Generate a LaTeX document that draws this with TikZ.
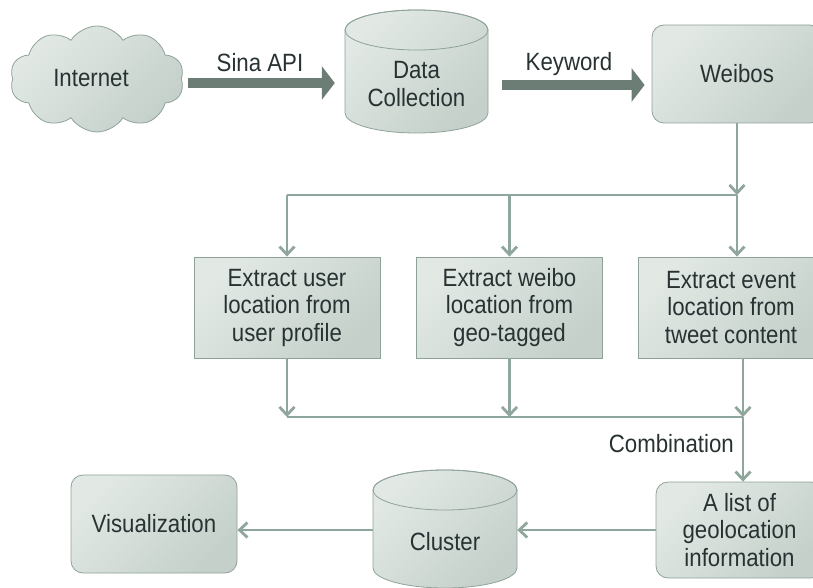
\documentclass[tikz,border=0pt]{standalone}
\usepackage{fontspec}
\setmainfont{Liberation Sans}
\newfontfamily\tallfont[FakeStretch=0.89]{Liberation Sans}
\usetikzlibrary{arrows.meta,shapes.symbols}
\definecolor{bordc}{HTML}{8FA299}
\definecolor{connc}{HTML}{8FA69C}
\definecolor{bigc}{HTML}{6B7D75}
\definecolor{lightf}{HTML}{E2E9E5}
\definecolor{darkf}{HTML}{C5D0CA}
\definecolor{txtc}{HTML}{283232}
\begin{document}
\begin{tikzpicture}[x=1pt,y=-1pt,
  font=\tallfont\fontsize{25}{27.5}\selectfont, text=txtc,
  shadedbox/.style={draw=bordc, line width=0.8pt, top color=lightf, bottom color=darkf, shading angle=45},
  procbox/.style={shadedbox, rectangle, minimum width=186pt, minimum height=101pt, align=center, inner sep=0pt},
  roundbox/.style={shadedbox, rectangle, rounded corners=12pt, align=center, inner sep=0pt},
  conn/.style={draw=connc, line width=2.8pt},
  connarrow/.style={conn, -{Straight Barb[length=8pt,width=15pt,line width=2.8pt]}},
  bigarrow/.style={draw=bigc, line width=10pt, -{Triangle[length=13pt,width=33pt]}},
  lbl/.style={inner sep=0pt}
]
\useasboundingbox (0,0) rectangle (813,588);

% Internet cloud
\node[cloud, shadedbox, cloud puffs=10, cloud puff arc=115, aspect=1.65,
      minimum width=174pt, minimum height=106pt, inner sep=0pt] (internet) at (97,79) {};
\node[lbl, anchor=base] (internettxt) at (91,87) {Internet};

% Data Collection cylinder
\node[inner sep=0pt, minimum width=143pt, minimum height=123pt] (dc) at (416.5,71.5) {};
\path[shadedbox] (345,30) -- (345,113)
   arc[start angle=180, end angle=360, x radius=71.5pt, y radius=20pt]
   -- (488,30)
   arc[start angle=0, end angle=180, x radius=71.5pt, y radius=20pt] -- cycle;
\draw[draw=bordc, line width=0.8pt] (416.5,30) ellipse[x radius=71.5pt, y radius=20pt];
\node[lbl, align=center] (dctxt) at (416.5,84) {Data\\Collection};

% Weibos
\node[roundbox, minimum width=170pt, minimum height=98pt] (weibos) at (737,74) {Weibos};

% labels of big arrows
\node[lbl, anchor=base] (sina) at (260,72) {Sina API};
\node[lbl, anchor=base] (keyword) at (569,71) {Keyword};

% big arrows
\draw[bigarrow, shorten <=6pt, shorten >=10pt] (internet.east |- 0,83) -- (dc.west |- 0,83);
\draw[bigarrow, shorten <=14pt, shorten >=7pt] (dc.east |- 0,85) -- (weibos.west |- 0,85);

% extraction boxes
\node[procbox] (box1) at (287,307.5) {Extract user\\location from\\user profile};
\node[procbox] (box2) at (509.5,307.5) {Extract weibo\\location from\\geo-tagged};
\node[procbox] (box3) at (731,307.5) {Extract event\\location from\\tweet content};

% list box
\node[roundbox, minimum width=167pt, minimum height=96pt] (list) at (739.5,530) {A list of\\geolocation\\information};

% Cluster cylinder
\node[inner sep=0pt, minimum width=144pt, minimum height=120pt] (cl) at (445,530) {};
\path[shadedbox] (373,490) -- (373,568)
   arc[start angle=180, end angle=360, x radius=72pt, y radius=20pt]
   -- (517,490)
   arc[start angle=0, end angle=180, x radius=72pt, y radius=20pt] -- cycle;
\draw[draw=bordc, line width=0.8pt] (445,490) ellipse[x radius=72pt, y radius=20pt];
\node[lbl, anchor=base] (cltxt) at (445,550) {Cluster};

% Visualization
\node[roundbox, minimum width=166pt, minimum height=98pt] (vis) at (154,524) {Visualization};

% connectors
\coordinate (j0) at (737,195);
\coordinate (j1) at (743,417);
\draw[connarrow] (weibos.south) -- (j0);
\draw[conn] (box1.north |- j0) -- (j0);
\draw[connarrow] (box1.north |- j0) -- (box1.north);
\draw[connarrow] (box2.north |- j0) -- (box2.north);
\draw[connarrow] (j0) -- (j0 |- box3.north);

\draw[connarrow] (box1.south) -- (box1.south |- j1);
\draw[connarrow] (box2.south) -- (box2.south |- j1);
\draw[connarrow] (j1 |- box3.south) -- (j1);
\draw[conn] (box1.south |- j1) -- (j1);
\draw[connarrow] (j1) -- (j1 |- list.north);
\node[lbl, anchor=base east] (comb) at (734,452) {Combination};

\draw[connarrow] (list.west) -- (cl.east);
\draw[connarrow] (cl.west) -- (vis.east |- cl.west);
\end{tikzpicture}
\end{document}
